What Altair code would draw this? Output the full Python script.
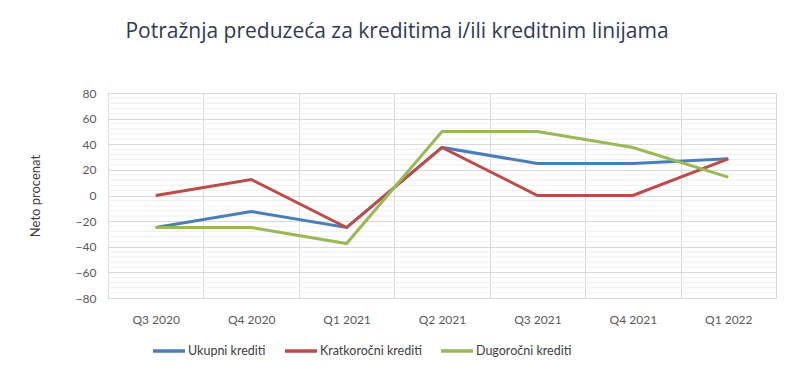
import altair as alt
import pandas as pd

quarters = ["Q3 2020", "Q4 2020", "Q1 2021", "Q2 2021", "Q3 2021", "Q4 2021", "Q1 2022"]
series_names = ["Ukupni krediti", "Kratkoročni krediti", "Dugoročni krediti"]
ukupni = [-25, -12.5, -25, 37.5, 25, 25, 28.6]
kratkorocni = [0, 12.5, -25, 37.5, 0, 0, 28.6]
dugorocni = [-25, -25, -37.5, 50, 50, 37.5, 14.3]
colors = ["#4A7EBB", "#BE4B48", "#98B954"]
y_ticks = list(range(-80, 81, 20))
minor_ticks = [v for v in range(-80, 81, 4) if v % 20 != 0]

rows = []
for name, vals in zip(series_names, [ukupni, kratkorocni, dugorocni]):
    for q, v in zip(quarters, vals):
        rows.append({"Kvartal": q, "Serija": name, "Vrednost": v})
df = pd.DataFrame(rows)
minor_df = pd.DataFrame({"Vrednost": minor_ticks})

font = "Lato"
yscale = alt.Scale(domain=[-80, 80], nice=False, zero=False)
y_axis = alt.Axis(
    title="Neto procenat", values=y_ticks, grid=True, gridColor="#D9D9D9",
    ticks=False, domain=False, labelPadding=12, labelFontSize=12,
    labelColor="#595959", labelFont=font, titleFont=font,
    titleFontSize=13, titleFontWeight="normal", titleColor="#404040",
    titlePadding=33,
)

minor = alt.Chart(minor_df).mark_rule(color="#EFEFEF", strokeWidth=1).encode(
    y=alt.Y("Vrednost:Q", scale=yscale, axis=y_axis)
)

lines = alt.Chart(df).mark_line(strokeWidth=3).encode(
    x=alt.X(
        "Kvartal:N",
        sort=quarters,
        scale=alt.Scale(type="band", paddingInner=0, paddingOuter=0),
        axis=alt.Axis(
            title=None, tickBand="extent", grid=True, gridColor="#D9D9D9",
            ticks=False, domain=False, labelAngle=0, labelPadding=16,
            labelFontSize=12, labelColor="#595959", labelFont=font,
        ),
    ),
    y=alt.Y("Vrednost:Q", scale=yscale, axis=y_axis),
    color=alt.Color(
        "Serija:N",
        sort=series_names,
        scale=alt.Scale(domain=series_names, range=colors),
        legend=alt.Legend(
            title=None, orient="none", legendX=43, legendY=240,
            direction="horizontal", symbolType="stroke", symbolStrokeWidth=3.5,
            symbolSize=1024, labelFontSize=12.5, labelColor="#404040",
            labelFont=font, columnPadding=12, labelOffset=1,
        ),
    ),
)

chart = alt.layer(minor, lines).properties(
    width=668,
    height=205,
    title=alt.TitleParams(
        text="Potražnja preduzeća za kreditima i/ili kreditnim linijama",
        font="Open Sans", fontSize=21, fontWeight="normal", color="#2F3A56",
        anchor="middle", dx=-45, offset=45,
    ),
    autosize=alt.AutoSizeParams(type="none"),
    padding={"left": 100, "top": 85, "right": 8, "bottom": 66},
).configure_view(stroke=None).configure(background="white")

chart.save("out.html", embed_options={"renderer": "svg", "actions": False})
